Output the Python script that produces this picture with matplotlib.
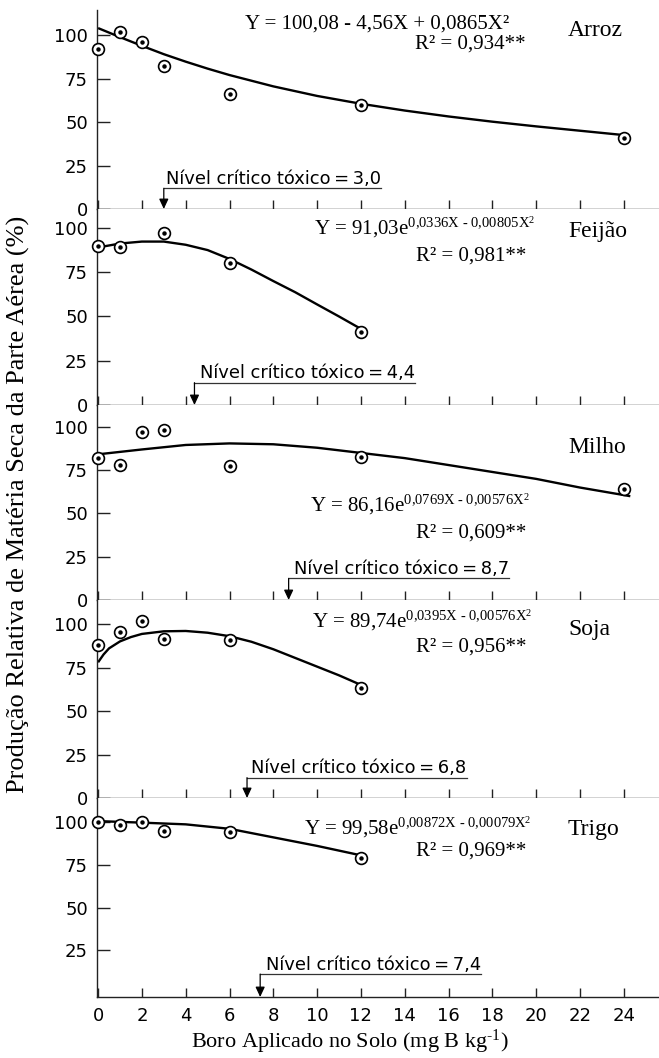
import numpy as np
import matplotlib.pyplot as plt

plt.rcParams['mathtext.fontset'] = 'custom'
plt.rcParams['mathtext.rm'] = 'Liberation Serif'
plt.rcParams['mathtext.it'] = 'Liberation Serif:italic'
plt.rcParams['mathtext.bf'] = 'Liberation Serif:bold'

# ---- dados ----
culturas = ['Arroz', 'Feijão', 'Milho', 'Soja', 'Trigo']

arroz_x = [0, 1, 2, 3, 6, 12, 24]
arroz_y = [92, 102, 96, 82, 66, 60, 41]
feijao_x = [0, 1, 3, 6, 12]
feijao_y = [90, 89, 97, 80, 41.5]
milho_x = [0, 1, 2, 3, 6, 12, 24]
milho_y = [82, 78, 97, 98.5, 77.5, 82.5, 64]
soja_x = [0, 1, 2, 3, 6, 12]
soja_y = [88, 95.5, 102, 91.5, 91, 63]
trigo_x = [0, 1, 2, 3, 6, 12]
trigo_y = [100, 98, 100, 95, 94, 79]

# curvas ajustadas (lidas ponto a ponto)
arroz_cx = [0, 1, 2, 3, 4, 5, 6, 8, 10, 12, 14, 16, 18, 20, 22, 24]
arroz_cy = [104, 98.8, 93.8, 89, 84.7, 80.7, 77, 70.5, 65, 60.5, 56.6, 53.2, 50.2, 47.5, 45, 42.5]
feijao_cx = [0, 1, 2, 3, 4, 5, 6, 7, 8, 9, 10, 11, 12]
feijao_cy = [89, 91.2, 92.3, 92.3, 90.5, 87.5, 82.5, 76.5, 70, 63.7, 56.8, 50, 43]
milho_cx = [0, 2, 4, 6, 8, 10, 12, 14, 16, 18, 20, 22, 24.3]
milho_cy = [84.2, 87, 89.6, 90.5, 90, 88, 85, 82, 78, 74, 70, 65, 60]
soja_cx = [0, 0.25, 0.5, 1, 1.5, 2, 3, 4, 5, 6, 7, 8, 9, 10, 11, 12]
soja_cy = [78, 82.5, 86, 90, 92.5, 94.3, 95.8, 96, 95, 93, 89.8, 85.5, 80.5, 75.5, 70.5, 65]
trigo_cx = [0, 2, 4, 6, 8, 10, 12]
trigo_cy = [100.5, 99.6, 98.6, 96, 91, 86, 80.5]

equacoes = [
    'Y = 100,08 - 4,56X + 0,0865X²',
    r'Y = 91,03e$^{\text{0,0336X - 0,00805X}^{2}}$',
    r'Y = 86,16e$^{\text{0,0769X - 0,00576X}^{2}}$',
    r'Y = 89,74e$^{\text{0,0395X - 0,00576X}^{2}}$',
    r'Y = 99,58e$^{\text{0,00872X - 0,00079X}^{2}}$',
]
r2 = ['0,934**', '0,981**', '0,609**', '0,956**', '0,969**']
criticos = [3.0, 4.4, 8.7, 6.8, 7.4]

pontos = [(arroz_x, arroz_y), (feijao_x, feijao_y), (milho_x, milho_y),
          (soja_x, soja_y), (trigo_x, trigo_y)]
curvas = [(arroz_cx, arroz_cy), (feijao_cx, feijao_cy), (milho_cx, milho_cy),
          (soja_cx, soja_cy), (trigo_cx, trigo_cy)]

# ---- layout (pixels) ----
W, H = 659, 1058
fx = lambda p: p / W
fy = lambda p: 1 - p / H

topo = [10, 209, 405, 600, 798]
base = [209, 405, 600, 798, 997]
ylims = [(0, 114.4), (0, 110.7), (0, 112.7), (0, 113.8), (-2.3, 114)]
linha_y = [11.9, 12.6, 12.5, 11.7, 11.1]
desloc_txt = [0.1, 0.25, 0.25, 0.2, 0.25]
eq_cx = [377, 425, 420, 422, 418]
eq_base = [28.5, 234, 511, 627, 834]
r2_base = [48.5, 261, 538, 652, 856]
nome_base = [36, 237, 453, 635, 835]

serif = 'Liberation Serif'
sans = 'DejaVu Sans'

fig = plt.figure(figsize=(W / 100, H / 100), dpi=100)
eixos = []
textos = []
for i in range(5):
    ax = fig.add_axes([fx(97), fy(base[i]), 1 - fx(97), (base[i] - topo[i]) / H])
    eixos.append(ax)
    ax.set_xlim(-0.05, 25.61)
    ax.set_ylim(*ylims[i])
    for s in ['top', 'right']:
        ax.spines[s].set_visible(False)
    for s in ['left', 'bottom']:
        ax.spines[s].set_linewidth(1.0)
        ax.spines[s].set_color('#222222')
    ax.set_xticks(np.arange(0, 25, 2))
    ax.set_yticks([25, 50, 75, 100] if i == 4 else [0, 25, 50, 75, 100])
    ax.tick_params(axis='x', direction='in', length=6.5, width=1, color='#222222',
                   labelbottom=(i == 4), labelsize=13, pad=7)
    ax.tick_params(axis='y', direction='in', length=9.5, width=1, color='#222222',
                   labelsize=13, pad=6.5)
    for lb in ax.get_xticklabels() + ax.get_yticklabels():
        lb.set_family(sans)

    cx, cy = curvas[i]
    ax.plot(cx, cy, color='black', lw=1.7, zorder=2, solid_capstyle='butt')
    px_, py_ = pontos[i]
    ax.plot(px_, py_, 'o', ms=8.5, mfc='white', mec='black', mew=1.2, zorder=3, clip_on=False)
    ax.plot(px_, py_, 'o', ms=2.2, color='black', zorder=4, clip_on=False)

    c = criticos[i]
    t = ax.text(c + desloc_txt[i], linha_y[i] + 2.4,
                'Nível crítico tóxico\u2009=\u2009' + f'{c:.1f}'.replace('.', ','),
                family=sans, fontsize=12.9, ha='left', va='baseline')
    textos.append(t)

    fig.text(fx(eq_cx[i]), fy(eq_base[i]), equacoes[i], family=serif, fontsize=15,
             ha='center', va='baseline')
    fig.text(fx(526), fy(r2_base[i]), 'R² = ' + r2[i], family=serif, fontsize=15,
             ha='right', va='baseline')
    fig.text(fx(568), fy(nome_base[i]), culturas[i], family=serif, fontsize=17,
             ha='left', va='baseline')

fig.canvas.draw()
rend = fig.canvas.get_renderer()
for i, ax in enumerate(eixos):
    c = criticos[i]
    bb = textos[i].get_window_extent(rend)
    x_fim = ax.transData.inverted().transform((bb.x1, 0))[0]
    ax.plot([c, x_fim], [linha_y[i], linha_y[i]], color='#333333', lw=0.9, zorder=2)
    ax.annotate('', xy=(c, ax.get_ylim()[0]), xytext=(c, linha_y[i]),
                arrowprops=dict(arrowstyle='-|>,head_length=0.6,head_width=0.28',
                                color='black', lw=0.9, shrinkA=0, shrinkB=0,
                                mutation_scale=10))

fig.text(fx(18), fy(504), 'Produção Relativa de Matéria Seca da Parte Aérea (%)',
         family=serif, fontsize=19, rotation=90, ha='center', va='center')
fig.text(fx(350), fy(1048), r'Boro Aplicado no Solo (mg B kg$^{\text{-1}}$)',
         family=serif, fontsize=16, ha='center', va='baseline')

fig.savefig('out.png', dpi=100)
